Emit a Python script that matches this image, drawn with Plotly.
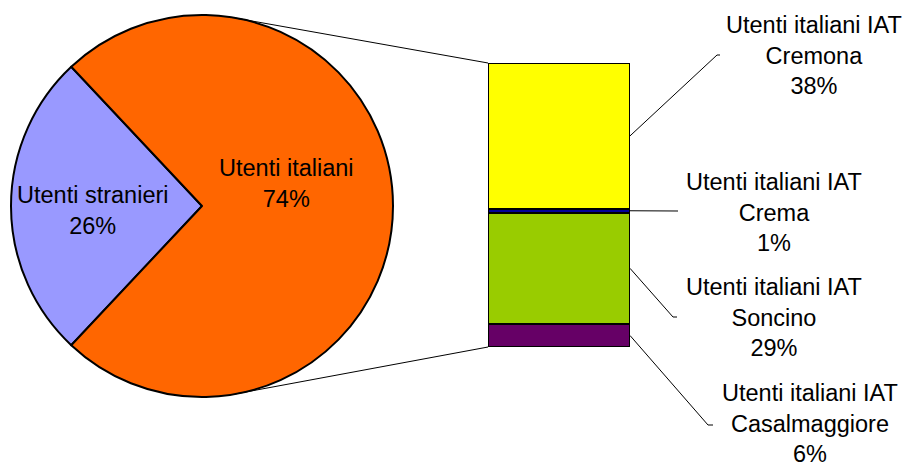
import plotly.graph_objects as go

W, H = 909, 466

# data
pie_labels = ['Utenti stranieri', 'Utenti italiani']
pie_values = [26, 74]
pie_colors = ['#9999FF', '#FF6600']

iat_labels = ['Utenti italiani IAT<br>Casalmaggiore', 'Utenti italiani IAT<br>Soncino',
              'Utenti italiani IAT<br>Crema', 'Utenti italiani IAT<br>Cremona']
iat_values = [6, 29, 1, 38]
iat_colors = ['#660066', '#99CC00', '#000099', '#FFFF00']


def px(x):
    return x / W


def py(y):
    return 1 - y / H


FONT = dict(family='Liberation Sans, Arial, sans-serif', size=23.5, color='black')

# pie circle in pixels
cx, cy, r = 202, 206, 191
# bar box in pixels
bx0, bx1, by0, by1 = 488, 630, 63, 347

fig = go.Figure()

fig.add_trace(go.Pie(
    labels=pie_labels,
    values=pie_values,
    sort=False,
    direction='clockwise',
    rotation=270 - 360 * pie_values[0] / 200,
    marker=dict(colors=pie_colors, line=dict(color='black', width=2)),
    textinfo='none',
    hoverinfo='label+percent',
    domain=dict(x=[px(cx - r), px(cx + r)], y=[py(cy + r), py(cy - r)]),
    showlegend=False,
))

for lab, val, col in zip(iat_labels, iat_values, iat_colors):
    fig.add_trace(go.Bar(
        x=[0], y=[val], width=1,
        name=lab.replace('<br>', ' '),
        marker=dict(color=col, line=dict(color='black', width=2)),
        showlegend=False,
    ))

total = sum(iat_values)
fig.update_layout(
    barmode='stack',
    width=W, height=H,
    margin=dict(l=0, r=0, t=0, b=0),
    paper_bgcolor='white',
    plot_bgcolor='white',
    font=FONT,
    xaxis=dict(domain=[px(bx0), px(bx1)], range=[-0.5, 0.5], visible=False, fixedrange=True),
    yaxis=dict(domain=[py(by1), py(by0)], range=[0, total], visible=False, fixedrange=True),
)

pie_total = sum(pie_values)
# pie labels
pie_label_pos = [(93, 211), (286, 183)]
for lab, val, (lx, ly) in zip(pie_labels, pie_values, pie_label_pos):
    fig.add_annotation(x=px(lx), y=py(ly), xref='paper', yref='paper',
                       text=f'{lab}<br>{round(100 * val / pie_total)}%',
                       showarrow=False, font=FONT, xanchor='center', yanchor='middle')

# bar labels and leader lines: (label centre, elbow point, end point)
label_pos = [(810, 423), (774, 317), (774, 212), (814, 56)]
elbow = [(708, 425), (673, 317), (678, 211), (717, 55)]
elbow_end = [(713, 425), (677, 317), (678, 211), (720, 55)]

cum = 0
for lab, val, (lx, ly), (ex, ey), (fx, fy) in zip(iat_labels, iat_values, label_pos, elbow, elbow_end):
    mid = cum + val / 2
    cum += val
    sy = by1 - (by1 - by0) * mid / total
    fig.add_annotation(x=px(lx), y=py(ly), xref='paper', yref='paper',
                       text=f'{lab}<br>{round(100 * val / pie_total)}%',
                       showarrow=False, font=FONT, xanchor='center', yanchor='middle')
    fig.add_shape(type='path', xref='paper', yref='paper',
                  path=f'M {px(bx1)},{py(sy)} L {px(ex)},{py(ey)} L {px(fx)},{py(fy)}',
                  line=dict(color='black', width=1))

# connector lines from the pie to the bar
for sy, ey in [(18, by0), (394, by1)]:
    fig.add_shape(type='line', xref='paper', yref='paper',
                  x0=px(235), y0=py(sy), x1=px(bx0), y1=py(ey),
                  line=dict(color='black', width=1))

fig.write_html('out.html', config={'displayModeBar': False},
               post_script="document.body.style.margin='0px';")
